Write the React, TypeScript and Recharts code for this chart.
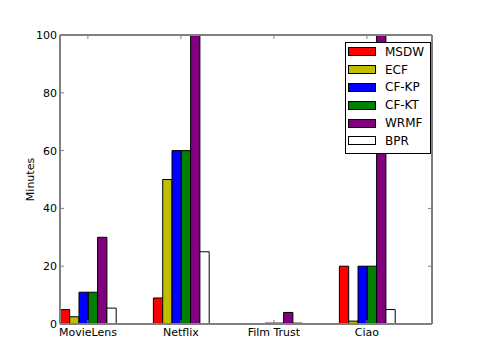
import { BarChart, Bar, XAxis, YAxis, Legend } from "recharts";

const datasets = ["MovieLens", "Netflix", "Film Trust", "Ciao"];
const groupPos = [0.3, 1.3, 2.3, 3.3];

const msdw = [5, 9, 0.1, 20];
const ecf = [2.5, 50, 0.05, 1];
const cfkp = [11, 60, 0.3, 20];
const cfkt = [11, 60, 0.3, 20];
const wrmf = [30, 100, 4, 120];
const bpr = [5.5, 25, 0.3, 5];

const yTicks = [0, 20, 40, 60, 80, 100];

const series = [
  { key: "msdw", name: "MSDW", color: "#ff0000" },
  { key: "ecf", name: "ECF", color: "#bfbf00" },
  { key: "cfkp", name: "CF-KP", color: "#0000ff" },
  { key: "cfkt", name: "CF-KT", color: "#008000" },
  { key: "wrmf", name: "WRMF", color: "#800080" },
  { key: "bpr", name: "BPR", color: "#ffffff" },
];

const data = datasets.map((name, i) => ({
  name,
  pos: groupPos[i],
  msdw: msdw[i],
  ecf: ecf[i],
  cfkp: cfkp[i],
  cfkt: cfkt[i],
  wrmf: wrmf[i],
  bpr: bpr[i],
}));

const font = "'DejaVu Sans', sans-serif";
const frame = "#808080";

function LegendBox() {
  return (
    <div style={{ fontFamily: font, fontSize: 12, color: "#000", paddingTop: 0 }}>
      {series.map((s) => (
        <div key={s.key} style={{ display: "flex", alignItems: "center", height: 17.8 }}>
          <span
            style={{
              display: "inline-block",
              width: 26,
              height: 7,
              marginLeft: 2,
              marginRight: 9,
              background: s.color,
              border: "1px solid #000",
            }}
          />
          <span>{s.name}</span>
        </div>
      ))}
    </div>
  );
}

export default function App() {
  const tickStyle = { fontSize: 11, fill: "#000", fontFamily: font };
  return (
    <div style={{ position: "absolute", left: 0, top: 0, background: "#fff" }}>
      <BarChart
        width={480}
        height={360}
        data={data}
        barGap={0}
        margin={{ top: 34, right: 47, left: 20, bottom: 16 }}
      >
        <XAxis
          xAxisId="bottom"
          dataKey="pos"
          type="number"
          domain={[0, 4]}
          ticks={groupPos}
          tickFormatter={(v: number) => datasets[groupPos.indexOf(v)] ?? ""}
          height={20}
          tickSize={-4}
          tickMargin={8}
          axisLine={{ stroke: frame, strokeWidth: 2 }}
          tickLine={{ stroke: frame }}
          tick={tickStyle}
        />
        <XAxis
          xAxisId="top"
          orientation="top"
          dataKey="pos"
          type="number"
          domain={[0, 4]}
          ticks={groupPos}
          tickFormatter={() => ""}
          height={1}
          tickSize={-4}
          axisLine={{ stroke: frame, strokeWidth: 2 }}
          tickLine={{ stroke: frame }}
        />
        <YAxis
          yAxisId="left"
          domain={[0, 100]}
          ticks={yTicks}
          allowDataOverflow
          width={40}
          tickSize={-4}
          tickMargin={7}
          axisLine={{ stroke: frame, strokeWidth: 2 }}
          tickLine={{ stroke: frame }}
          tick={tickStyle}
          label={{
            content: (props: any) => {
              const vb = props.viewBox;
              const x = vb.x + 10;
              const y = vb.y + vb.height / 2;
              return (
                <text
                  x={x}
                  y={y}
                  transform={`rotate(-90, ${x}, ${y})`}
                  textAnchor="middle"
                  dominantBaseline="central"
                  fontSize={11}
                  fontFamily={font}
                  fill="#000"
                >
                  Minutes
                </text>
              );
            },
          }}
        />
        <YAxis
          yAxisId="right"
          orientation="right"
          domain={[0, 100]}
          ticks={yTicks}
          allowDataOverflow
          width={1}
          tickSize={-4}
          tickFormatter={() => ""}
          axisLine={{ stroke: frame, strokeWidth: 2 }}
          tickLine={{ stroke: frame }}
        />
        <Legend
          layout="vertical"
          align="center"
          verticalAlign="middle"
          content={() => <LegendBox />}
          wrapperStyle={{
            position: "absolute",
            left: 345,
            top: 42,
            width: 86,
            height: 112,
            border: "1px solid #000",
            background: "#fff",
            boxSizing: "border-box",
          }}
        />
        {series.map((s) => (
          <Bar
            key={s.key}
            xAxisId="bottom"
            yAxisId="left"
            dataKey={s.key}
            name={s.name}
            fill={s.color}
            stroke="#000"
            strokeWidth={1}
            barSize={9.3}
            isAnimationActive={false}
          />
        ))}
      </BarChart>
    </div>
  );
}
